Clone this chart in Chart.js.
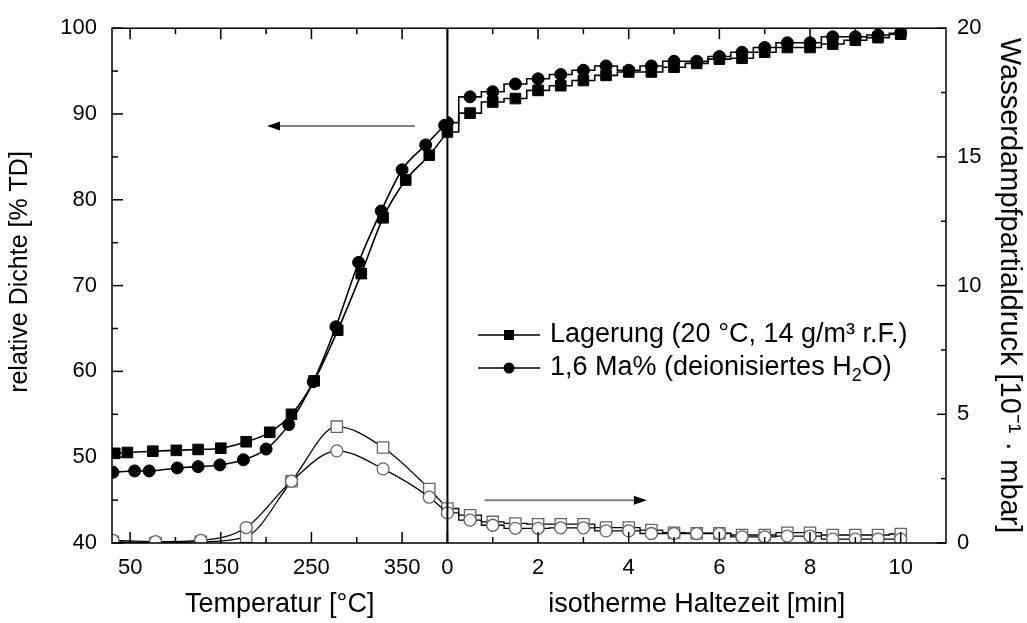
<!DOCTYPE html>
<html>
<head>
<meta charset="utf-8">
<script src="https://cdn.jsdelivr.net/npm/chart.js@4/dist/chart.umd.min.js"></script>
<style>
body { margin: 0; background: #fff; }
</style>
</head>
<body>
<canvas id="SinterChart" width="1027" height="623"></canvas>
<script>
/* heating part: temperature [°C] */
const tempSq = [33, 47, 75, 101, 125, 150, 178, 204, 228, 253, 279, 305, 329, 354, 380, 400];
const densSq = [50.45, 50.55, 50.7, 50.8, 50.9, 51.05, 51.8, 52.9, 55.0, 58.9, 64.8, 71.4, 77.9, 82.3, 85.2, 87.9];
const tempCi = [31, 55, 71, 102, 125, 149, 175, 200, 225, 252, 277, 302, 327, 350, 376, 397];
const densCi = [48.25, 48.4, 48.4, 48.75, 48.9, 49.1, 49.7, 50.95, 53.8, 58.8, 65.2, 72.7, 78.7, 83.5, 86.4, 88.7];
const tempVap = [31, 78, 128, 178, 228, 278, 329, 380, 400];
const vapSq = [0.05, 0.0, 0.05, 0.24, 2.4, 4.52, 3.71, 2.1, 1.34];
const vapCi = [0.1, 0.05, 0.1, 0.6, 2.4, 3.58, 2.88, 1.78, 1.17];

/* isothermal part: time [min] */
const timeMin = [0, 0.5, 1, 1.5, 2, 2.5, 3, 3.5, 4, 4.5, 5, 5.5, 6, 6.5, 7, 7.5, 8, 8.5, 9, 9.5, 10];
const densSqTime = [87.9, 90.1, 91.4, 91.8, 92.75, 93.3, 93.9, 94.5, 94.9, 94.9, 95.45, 95.9, 96.4, 96.5, 97.2, 97.75, 97.75, 98.15, 98.6, 98.9, 99.3];
const densCiTime = [89.0, 92.0, 92.6, 93.5, 94.1, 94.6, 95.1, 95.6, 95.1, 95.6, 96.15, 96.15, 96.7, 97.2, 97.75, 98.3, 98.3, 99.0, 99.0, 99.2, 99.4];
const vapSqTime = [1.34, 1.08, 0.82, 0.76, 0.73, 0.73, 0.73, 0.6, 0.6, 0.5, 0.4, 0.38, 0.38, 0.31, 0.31, 0.4, 0.4, 0.31, 0.31, 0.31, 0.35];
const vapCiTime = [1.17, 0.89, 0.69, 0.57, 0.57, 0.59, 0.59, 0.47, 0.47, 0.37, 0.37, 0.37, 0.37, 0.24, 0.24, 0.27, 0.27, 0.15, 0.15, 0.15, 0.15];

/* ticks */
const tempTicks = [50, 100, 150, 200, 250, 300, 350];
const tempLabels = [50, 150, 250, 350];
const timeTicks = [0, 1, 2, 3, 4, 5, 6, 7, 8, 9, 10];
const timeLabels = [0, 2, 4, 6, 8, 10];
const densTicks = [40, 45, 50, 55, 60, 65, 70, 75, 80, 85, 90, 95, 100];
const densLabels = [40, 50, 60, 70, 80, 90, 100];
const vapTicks = [0, 2.5, 5, 7.5, 10, 12.5, 15, 17.5, 20];
const vapLabels = [0, 5, 10, 15, 20];

const legendNames = ['Lagerung (20 °C, 14 g/m³ r.F.)', '1,6 Ma% (deionisiertes H₂O)'];
const densTitle = 'relative Dichte [% TD]';

const FONT = '"Liberation Sans", Arial, sans-serif';

const pts = (xs, ys) => xs.map((x, i) => ({x: x, y: ys[i]}));

function filled(data, x, style, radius, stepped) {
    return {
        data: data, xAxisID: x, yAxisID: 'yL',
        borderColor: '#000', borderWidth: 1.6, backgroundColor: '#000',
        pointStyle: style, pointRadius: radius, pointBorderWidth: 1,
        pointBackgroundColor: '#000', pointBorderColor: '#000',
        cubicInterpolationMode: 'monotone', stepped: stepped, clip: 0
    };
}
function open(data, x, style, radius, stepped) {
    return {
        data: data, xAxisID: x, yAxisID: 'yR',
        borderColor: '#000', borderWidth: 1.3, backgroundColor: '#fff',
        pointStyle: style, pointRadius: radius, pointBorderWidth: 1.3,
        pointBackgroundColor: '#fff', pointBorderColor: '#666',
        cubicInterpolationMode: 'monotone', stepped: stepped, clip: 0
    };
}

function setTicks(list) {
    return function (scale) { scale.ticks = list.map(v => ({value: v})); };
}
function label(list) {
    return function (v) { return list.includes(v) ? String(v) : ''; };
}

//inward ticks, frame, divider, arrows, legend
const decor = {
    id: 'decor',
    afterDatasetsDraw(chart) {
        const {ctx, chartArea: a, scales} = chart;
        ctx.save();
        ctx.strokeStyle = '#000';
        ctx.lineWidth = 1.5;
        const line = (x0, y0, x1, y1) => { ctx.beginPath(); ctx.moveTo(x0, y0); ctx.lineTo(x1, y1); ctx.stroke(); };

        ['xT', 'xt'].forEach(id => {
            const s = scales[id];
            s.ticks.forEach(t => {
                const x = s.getPixelForValue(t.value);
                const len = t.label !== '' ? 11 : 6;
                line(x, a.bottom, x, a.bottom - len);
                line(x, a.top, x, a.top + len);
            });
        });
        scales.yL.ticks.forEach(t => {
            const y = scales.yL.getPixelForValue(t.value);
            line(a.left, y, a.left + (t.label !== '' ? 11 : 6), y);
        });
        scales.yR.ticks.forEach(t => {
            const y = scales.yR.getPixelForValue(t.value);
            line(a.right, y, a.right - (t.label !== '' ? 9 : 5), y);
        });

        ctx.strokeRect(a.left, a.top, a.right - a.left, a.bottom - a.top);
        ctx.lineWidth = 2;
        line(scales.xT.right, a.top, scales.xT.right, a.bottom);

        // arrows pointing to the axis of each curve group
        const arrow = (x0, x1, y) => {
            const dir = Math.sign(x1 - x0);
            ctx.strokeStyle = '#808080';
            ctx.lineWidth = 2;
            line(x0, y, x1 - dir * 10, y);
            ctx.fillStyle = '#000';
            ctx.beginPath();
            ctx.moveTo(x1, y);
            ctx.lineTo(x1 - dir * 13, y - 4.5);
            ctx.lineTo(x1 - dir * 13, y + 4.5);
            ctx.closePath();
            ctx.fill();
        };
        arrow(scales.xT.getPixelForValue(364), scales.xT.getPixelForValue(201), scales.yL.getPixelForValue(88.6));
        arrow(scales.xt.getPixelForValue(0.82), scales.xt.getPixelForValue(4.4), scales.yR.getPixelForValue(1.66));

        // legend
        const lx = 478, rows = [335, 368];
        ctx.strokeStyle = '#000';
        ctx.fillStyle = '#000';
        ctx.lineWidth = 1.6;
        rows.forEach((y, i) => {
            line(lx, y, lx + 62, y);
            ctx.beginPath();
            if (i === 0) ctx.rect(lx + 26, y - 5, 10, 10);
            else ctx.arc(lx + 31, y, 5.5, 0, Math.PI * 2);
            ctx.fill();
        });
        ctx.font = '27px ' + FONT;
        ctx.textBaseline = 'middle';
        ctx.textAlign = 'left';
        ctx.fillText(legendNames[0], lx + 72, rows[0]);
        let tx = lx + 72;
        const part1 = '1,6 Ma% (deionisiertes H';
        ctx.fillText(part1, tx, rows[1]);
        tx += ctx.measureText(part1).width;
        ctx.font = '18px ' + FONT;
        ctx.fillText('2', tx, rows[1] + 8);
        tx += ctx.measureText('2').width;
        ctx.font = '27px ' + FONT;
        ctx.fillText('O)', tx, rows[1]);

        // left axis title (sits a little above the axis centre in the original)
        ctx.save();
        ctx.translate(20, 272);
        ctx.rotate(-Math.PI / 2);
        ctx.textAlign = 'center';
        ctx.font = '25px ' + FONT;
        ctx.fillText(densTitle, 0, 0);
        ctx.restore();
        ctx.restore();
    }
};

const axisBase = {
    type: 'linear',
    grid: {display: false, drawTicks: false},
    border: {display: false}
};

new Chart(document.getElementById('SinterChart'), {
    type: 'line',
    data: {
        datasets: [
            filled(pts(tempCi, densCi), 'xT', 'circle', 6, false),
            filled(pts(tempSq, densSq), 'xT', 'rect', 7.5, false),
            filled(pts(timeMin, densCiTime), 'xt', 'circle', 6, 'middle'),
            filled(pts(timeMin, densSqTime), 'xt', 'rect', 7.5, 'middle'),
            open(pts(tempVap, vapCi), 'xT', 'circle', 6, false),
            open(pts(tempVap, vapSq), 'xT', 'rect', 8, false),
            open(pts(timeMin, vapCiTime), 'xt', 'circle', 6, 'middle'),
            open(pts(timeMin, vapSqTime), 'xt', 'rect', 8, 'middle')
        ]
    },
    options: {
        responsive: false,
        animation: false,
        layout: {padding: {top: 24, left: 0, right: 0, bottom: 0}},
        plugins: {legend: {display: false}, tooltip: {enabled: false}},
        scales: {
            xT: Object.assign({}, axisBase, {
                position: 'bottom', stack: 'x', stackWeight: 370,
                min: 30, max: 400,
                afterBuildTicks: setTicks(tempTicks),
                afterFit: s => { s.height = 80; },
                ticks: {callback: label(tempLabels), autoSkip: false, maxRotation: 0, padding: 12,
                        color: '#000', font: {family: FONT, size: 22}},
                title: {display: true, text: 'Temperatur [°C]', color: '#000',
                        font: {family: FONT, size: 27}, padding: {top: 0, bottom: 2}}
            }),
            xt: Object.assign({}, axisBase, {
                position: 'bottom', stack: 'x', stackWeight: 550,
                min: 0, max: 11,
                afterBuildTicks: setTicks(timeTicks),
                afterFit: s => { s.height = 80; },
                ticks: {callback: label(timeLabels), autoSkip: false, maxRotation: 0, padding: 12,
                        color: '#000', font: {family: FONT, size: 22}},
                title: {display: true, text: 'isotherme Haltezeit [min]', color: '#000',
                        font: {family: FONT, size: 27}, padding: {top: 0, bottom: 2}}
            }),
            yL: Object.assign({}, axisBase, {
                position: 'left', min: 40, max: 100,
                afterBuildTicks: setTicks(densTicks),
                afterFit: s => { s.width = 112; },
                ticks: {callback: label(densLabels), autoSkip: false, padding: 15,
                        color: '#000', font: {family: FONT, size: 22}}
            }),
            yR: Object.assign({}, axisBase, {
                position: 'right', min: 0, max: 20,
                afterBuildTicks: setTicks(vapTicks),
                afterFit: s => { s.width = 81; },
                ticks: {callback: label(vapLabels), autoSkip: false, padding: 11,
                        color: '#000', font: {family: FONT, size: 22}},
                title: {display: true, text: 'Wasserdampfpartialdruck [10⁻¹ · mbar]', color: '#000',
                        font: {family: FONT, size: 29}, padding: {top: 1, bottom: 0}}
            })
        }
    },
    plugins: [decor]
});
</script>
</body>
</html>
